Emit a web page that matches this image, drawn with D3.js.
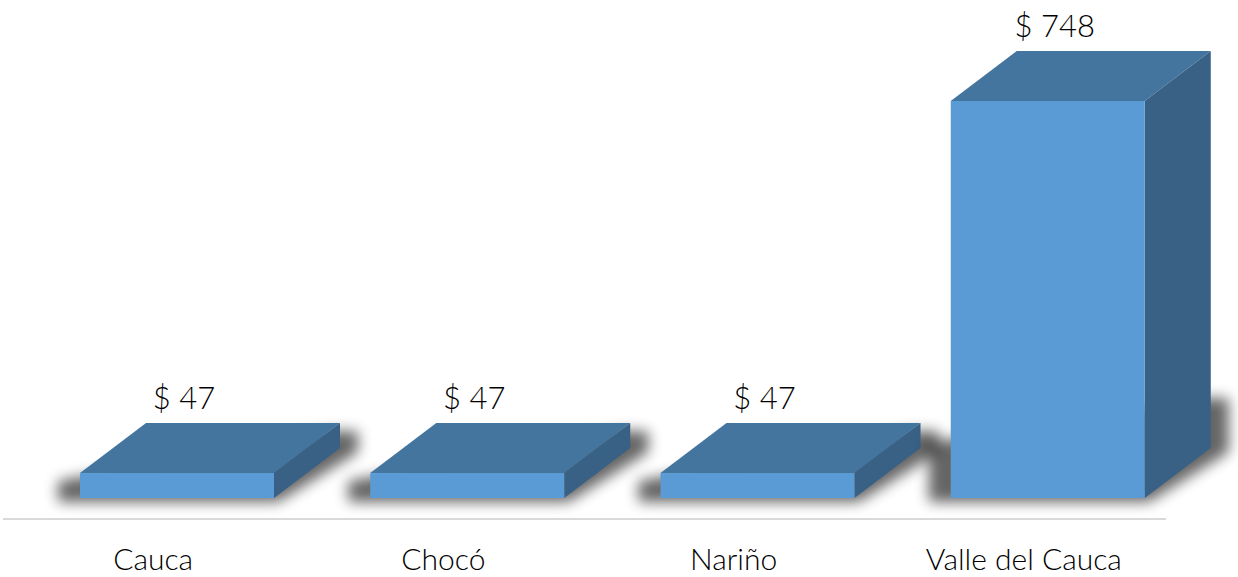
<!DOCTYPE html>
<html>
<head>
<meta charset="utf-8">
<script src="https://cdn.jsdelivr.net/npm/d3@7"></script>
<style>
  html, body { margin: 0; padding: 0; background: #ffffff; }
  svg { display: block; }
  text { font-family: "Lato", "Noto Sans", sans-serif; font-weight: 300; fill: #000; }
</style>
</head>
<body>
<svg id="chart" width="1238" height="577"></svg>
<script>
const categories = ["Cauca", "Chocó", "Nariño", "Valle del Cauca"];
const values = [47, 47, 47, 748];
const valueLabels = ["$ 47", "$ 47", "$ 47", "$ 748"];

const svg = d3.select("#chart");

const x = d3.scaleBand().domain(categories).range([5, 1166]).paddingInner(0).paddingOuter(0);
const y = d3.scaleLinear().domain([0, 748]).range([498, 101]);

const frontOffset = 75, frontW = 194, dx = 66, dy = -50;

const defs = svg.append("defs");
defs.append("filter").attr("id", "blur").attr("x", "-20%").attr("y", "-50%").attr("width", "140%").attr("height", "200%")
  .append("feGaussianBlur").attr("stdDeviation", 7);

// baseline
svg.append("line")
  .attr("x1", 3).attr("x2", 1166)
  .attr("y1", 519).attr("y2", 519)
  .attr("stroke", "#d9d9d9").attr("stroke-width", 2);

const data = categories.map((c, i) => ({ c, v: values[i], label: valueLabels[i] }));

const g = svg.append("g");
data.forEach(d => {
  const x0 = x(d.c) + frontOffset, x1 = x0 + frontW;
  const yb = y(0), yt = y(d.v);
  const h = yb - yt;
  const hl = Math.min(h - 8, 55), hr = Math.min(h - 8, 50);
  // shadow
  g.append("path")
    .attr("d", `M${x0-22},${yb+4} L${x1+4},${yb+4} L${x1+dx+18},${yb+dy+4} L${x1+dx+18},${yb+dy-hr} L${x1+dx-10},${yb+dy-hr} L${x0-22},${yb-hl} Z`)
    .attr("fill", "#000").attr("opacity", 0.6).attr("filter", "url(#blur)");
  // top face
  g.append("path")
    .attr("d", `M${x0},${yt} L${x0+dx},${yt+dy} L${x1+dx},${yt+dy} L${x1},${yt} Z`)
    .attr("fill", "#44759f");
  // side face
  g.append("path")
    .attr("d", `M${x1},${yt} L${x1+dx},${yt+dy} L${x1+dx},${yb+dy} L${x1},${yb} Z`)
    .attr("fill", "#386185");
  // front face
  g.append("rect")
    .attr("x", x0).attr("y", yt).attr("width", frontW).attr("height", h)
    .attr("fill", "#5b9bd5");
  // value label
  g.append("text")
    .attr("x", x0 + 104).attr("y", yt + dy - 14)
    .attr("text-anchor", "middle")
    .attr("font-size", 31)
    .text(d.label);
});

// category labels
svg.append("g").selectAll("text").data(categories).join("text")
  .attr("x", d => x(d) + x.bandwidth() / 2 + 3)
  .attr("y", 570)
  .attr("text-anchor", "middle")
  .attr("font-size", 30)
  .text(d => d);
</script>
</body>
</html>
